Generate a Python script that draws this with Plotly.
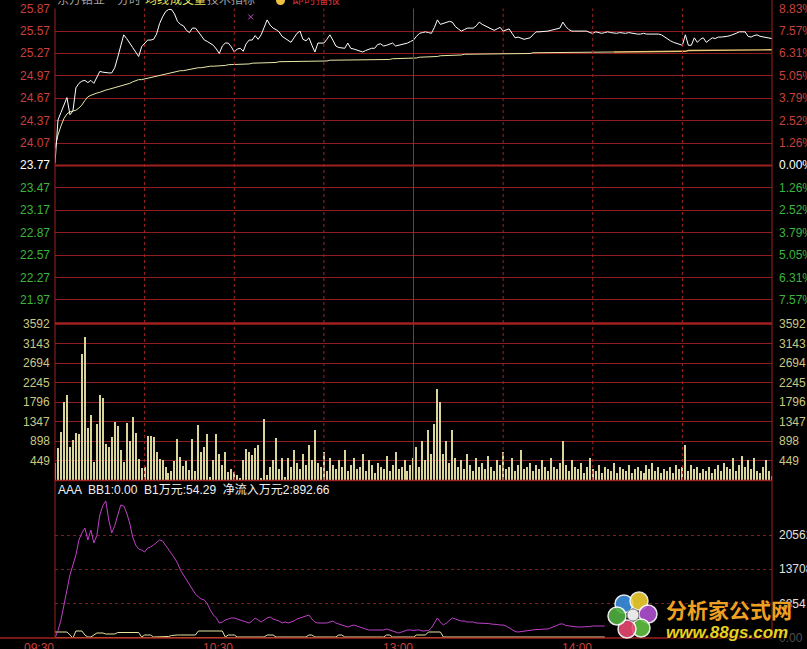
import plotly.graph_objects as go

W, H = 807, 649

# ---------------- data ----------------
prev_close = 23.77
price_ticks = [25.87, 25.57, 25.27, 24.97, 24.67, 24.37, 24.07, 23.77, 23.47, 23.17, 22.87, 22.57, 22.27, 21.97]
pct_labels = ["8.83%", "7.57%", "6.31%", "5.05%", "3.79%", "2.52%", "1.26%", "0.00%",
              "1.26%", "2.52%", "3.79%", "5.05%", "6.31%", "7.57%"]
vol_ticks = [3592, 3143, 2694, 2245, 1796, 1347, 898, 449]
ind_ticks = [20562, 13708, 6854]
ind_tick_labels = ["20562", "13708", "6854"]
time_labels = ["09:30", "10:30", "13:00", "14:00"]
time_label_pos = [0, 60, 120, 180]

price = [
    23.80, 24.38, 24.48, 24.58, 24.68, 24.45, 24.50, 24.81, 24.87, 24.90,
    24.91, 24.88, 24.91, 24.87, 24.96, 25.03, 25.02, 25.01, 25.01, 25.01,
    25.08, 25.22, 25.38, 25.52, 25.47, 25.40, 25.35, 25.29, 25.23, 25.36,
    25.41, 25.45, 25.45, 25.46, 25.53, 25.67, 25.76, 25.83, 25.86, 25.86,
    25.80, 25.70, 25.66, 25.64, 25.58, 25.55, 25.61, 25.61, 25.56, 25.50,
    25.45, 25.43, 25.41, 25.38, 25.33, 25.27, 25.37, 25.41, 25.41, 25.36,
    25.29, 25.33, 25.34, 25.30, 25.40, 25.45, 25.45, 25.51, 25.46, 25.52,
    25.62, 25.72, 25.65, 25.61, 25.59, 25.56, 25.50, 25.47, 25.45, 25.42,
    25.48, 25.54, 25.57, 25.46, 25.44, 25.48, 25.38, 25.29, 25.41, 25.41,
    25.41, 25.46, 25.52, 25.45, 25.37, 25.35, 25.34, 25.34, 25.41, 25.34,
    25.33, 25.32, 25.30, 25.29, 25.31, 25.33, 25.34, 25.34, 25.39, 25.40,
    25.37, 25.38, 25.40, 25.41, 25.37, 25.38, 25.38, 25.40, 25.41, 25.43,
    25.45, 25.50, 25.54, 25.55, 25.56, 25.55, 25.54, 25.62, 25.72, 25.66,
    25.67, 25.69, 25.70, 25.69, 25.63, 25.60, 25.57, 25.59, 25.61, 25.61,
    25.61, 25.64, 25.69, 25.66, 25.64, 25.62, 25.60, 25.58, 25.60, 25.62,
    25.57, 25.58, 25.60, 25.54, 25.48, 25.49, 25.48, 25.46, 25.47, 25.48,
    25.52, 25.56, 25.56, 25.56, 25.57, 25.57, 25.58, 25.59, 25.60, 25.61,
    25.69, 25.63, 25.59, 25.57, 25.57, 25.57, 25.56, 25.57, 25.57, 25.55,
    25.54, 25.56, 25.55, 25.54, 25.55, 25.56, 25.55, 25.54, 25.54, 25.55,
    25.54, 25.54, 25.55, 25.54, 25.54, 25.53, 25.53, 25.54, 25.53, 25.53,
    25.54, 25.54, 25.53, 25.52, 25.49, 25.46, 25.44, 25.42, 25.41, 25.39,
    25.38, 25.52, 25.38, 25.38, 25.48, 25.42, 25.46, 25.48, 25.42, 25.45,
    25.48, 25.47, 25.49, 25.49, 25.49, 25.50, 25.51, 25.52, 25.54, 25.56,
    25.56, 25.56, 25.50, 25.49, 25.51, 25.52, 25.50, 25.49, 25.48, 25.47,
    25.47,
]

avg_price = [
    24.00, 24.18, 24.30, 24.40, 24.46, 24.49, 24.50, 24.51, 24.54, 24.58,
    24.64, 24.69, 24.71, 24.73, 24.74, 24.75, 24.77, 24.78, 24.79, 24.80,
    24.81, 24.82, 24.83, 24.84, 24.85, 24.87, 24.89, 24.91, 24.92, 24.92,
    24.93, 24.94, 24.95, 24.96, 24.96, 24.97, 24.98, 24.99, 25.00, 25.01,
    25.02, 25.03, 25.04, 25.04, 25.05, 25.06, 25.06, 25.07, 25.08, 25.08,
    25.09, 25.09, 25.10, 25.10, 25.10, 25.11, 25.11, 25.11, 25.12, 25.12,
    25.12, 25.12, 25.13, 25.13, 25.13, 25.13, 25.14, 25.14, 25.14, 25.14,
    25.15, 25.15, 25.15, 25.15, 25.15, 25.16, 25.16, 25.16, 25.16, 25.16,
    25.16, 25.17, 25.17, 25.17, 25.17, 25.17, 25.17, 25.17, 25.17, 25.17,
    25.17, 25.17, 25.18, 25.18, 25.18, 25.18, 25.18, 25.18, 25.18, 25.18,
    25.18, 25.18, 25.18, 25.18, 25.18, 25.18, 25.19, 25.19, 25.19, 25.19,
    25.19, 25.19, 25.19, 25.20, 25.20, 25.20, 25.20, 25.20, 25.20, 25.20,
    25.21, 25.21, 25.22, 25.22, 25.22, 25.23, 25.23, 25.23, 25.23, 25.24,
    25.24, 25.24, 25.25, 25.25, 25.25, 25.25, 25.25, 25.26, 25.26, 25.26,
    25.26, 25.26, 25.26, 25.27, 25.27, 25.27, 25.27, 25.27, 25.27, 25.27,
    25.27, 25.27, 25.27, 25.27, 25.27, 25.27, 25.27, 25.27, 25.27, 25.27,
    25.28, 25.28, 25.28, 25.28, 25.28, 25.28, 25.28, 25.28, 25.28, 25.28,
    25.28, 25.28, 25.28, 25.28, 25.28, 25.28, 25.28, 25.28, 25.28, 25.28,
    25.28, 25.28, 25.28, 25.28, 25.28, 25.28, 25.28, 25.29, 25.29, 25.29,
    25.29, 25.29, 25.29, 25.29, 25.29, 25.29, 25.29, 25.29, 25.29, 25.29,
    25.30, 25.30, 25.30, 25.30, 25.30, 25.30, 25.30, 25.30, 25.30, 25.30,
    25.30, 25.30, 25.31, 25.31, 25.31, 25.31, 25.31, 25.31, 25.31, 25.31,
    25.31, 25.31, 25.31, 25.31, 25.31, 25.31, 25.31, 25.31, 25.31, 25.31,
    25.31, 25.31, 25.32, 25.32, 25.32, 25.32, 25.32, 25.32, 25.32, 25.32,
    25.32,
]
avg_split = 187  # colour of the average line changes here

volume = [
    397, 741, 1100, 1795, 1963, 756, 917, 1092, 1070, 2903,
    3285, 1192, 1490, 413, 1283, 1948, 1887, 840, 764, 985,
    1329, 1238, 688, 413, 1306, 894, 1444, 1077, 481, 267,
    306, 1008, 1008, 985, 642, 474, 458, 306, 168, 206,
    435, 947, 527, 328, 435, 229, 947, 214, 1260, 649,
    764, 1054, 76, 458, 1054, 603, 344, 642, 191, 244,
    183, 122, 38, 458, 710, 642, 573, 741, 802, 38,
    1405, 115, 306, 451, 970, 252, 497, 76, 500, 300,
    700, 400, 250, 600, 350, 800, 450, 1150, 400, 300,
    650, 200, 500, 350, 250, 450, 300, 700, 200, 350,
    500, 250, 300, 600, 200, 450, 350, 150, 400, 300,
    250, 550, 200, 350, 650, 250, 300, 450, 200, 350,
    500, 750, 300, 900, 450, 1150, 600, 1300, 2100, 1800,
    600, 900, 400, 1150, 500, 300, 450, 250, 600, 350,
    200, 500, 300, 400, 250, 550, 300, 200, 450, 350,
    650, 250, 300, 500, 200, 350, 700, 250, 300, 400,
    200, 350, 250, 450, 300, 200, 500, 300, 250, 400,
    900, 350, 200, 450, 300, 250, 400, 150, 300, 500,
    250, 200, 350, 150, 300, 250, 200, 400, 150, 300,
    250, 200, 350, 150, 250, 300, 200, 150, 350, 250,
    400, 200, 300, 150, 250, 200, 300, 150, 350, 250,
    300, 800, 200, 350, 250, 300, 150, 250, 200, 300,
    150, 250, 350, 200, 400, 300, 250, 500, 200, 350,
    550, 300, 450, 250, 500, 200, 150, 300, 450, 200,
    100,
]

net_inflow = [
    0, 1500, 3600, 7000, 9600, 12600, 14500, 16600, 19600, 21000,
    22000, 19600, 21600, 19000, 20500, 24600, 26500, 27400, 23600, 21000,
    22500, 24600, 26600, 26400, 25000, 23000, 20200, 18600, 17800, 17600,
    17200, 18000, 18200, 18600, 19200, 19600, 19400, 18600, 17600, 16800,
    16000, 15000, 13600, 12600, 11600, 10600, 9600, 8800, 8200, 7800,
    7600, 6800, 5600, 4600, 4000, 3000, 3200, 3600, 3800, 4000,
    4000, 3800, 3600, 3400, 3200, 3000, 3400, 4000, 3600, 3200,
    3600, 4000, 4200, 3800, 3600, 3400, 3000, 3200, 3000, 3200,
    3400, 3800, 4000, 4200, 4400, 4600, 3800, 3200, 3000, 3000,
    3000, 3000, 3200, 3400, 3000, 2800, 2600, 2400, 2200, 2400,
    2600, 2400, 2200, 2000, 1800, 1600, 1600, 1600, 1700, 1600,
    1600, 1800, 1600, 1400, 1200, 1000, 1200, 1400, 1600, 1600,
    1500, 1600, 1600, 1400, 1400, 1500, 2000, 3000, 4000, 3200,
    2600, 3000, 3600, 4000, 3800, 3600, 3400, 3400, 3200, 3200,
    3200, 3000, 3000, 3000, 3000, 2900, 2800, 2800, 2700, 2600,
    2600, 2400, 2000, 1600, 1300, 1200, 1300, 1400, 1500, 1600,
    1600, 1700, 1700, 1800, 1800, 1800, 2000, 2200, 2500, 2800,
    2800, 2500, 2400, 2400, 2300, 2200, 2200, 2200, 2300, 2300,
    2400, 2400, 2400, 2400, 2400,
]

b1_values = [
    1200, 1200, 1200, 1200, 1200, 600, 0, 1400, 1400, 1400,
    600, 200, 200, 600, 1000, 1000, 1000, 800, 800, 800,
    800, 1100, 1100, 1100, 1100, 1100, 1100, 1100, 1100, 200,
    600, 600, 600, 200, 200, 200, 200, 200, 300, 500,
    600, 600, 600, 600, 600, 600, 600, 600, 1400, 1400,
    1400, 1400, 1400, 1400, 1400, 1400, 1400, 200, 600, 600,
    600, 200, 200, 200, 200, 200, 200, 200, 200, 200,
    200, 600, 600, 600, 200, 200, 200, 200, 200, 200,
    200, 200, 200, 200, 200, 600, 600, 200, 200, 200,
    200, 200, 200, 200, 200, 600, 600, 200, 200, 200,
    200, 200, 200, 200, 200, 200, 200, 200, 200, 200,
    200, 600, 600, 200, 200, 200, 200, 200, 200, 200,
    200, 600, 600, 600, 600, 1200, 1200, 1200, 1200, 1200,
    200, 200, 200, 200, 200, 200, 200, 200, 200, 200,
    200, 200, 200, 200, 200, 200, 200, 200, 200, 200,
    200, 200, 200, 200, 200, 200, 200, 200, 200, 200,
    200, 200, 200, 200, 200, 200, 200, 200, 200, 200,
    200, 200, 200, 200, 200, 200, 200, 200, 200, 200,
    200, 200, 200, 200, 200,
]

bb1_values = [
    0, 0, 0, 0, 0, 0, 0, 0, 0, 0, 0, 0, 0, 0, 0, 0, 0, 0, 0, 0,
    0, 0, 0, 0, 0, 0, 0, 0, 0, 0, 0, 0, 0, 0, 0, 0, 0, 0, 0, 0,
    0, 0, 0, 0, 0, 0, 0, 0, 0, 0, 0, 0, 0, 0, 0, 0, 0, 0, 0, 0,
    0, 0, 0, 0, 0, 0, 0, 0, 0, 0, 0, 0, 0, 0, 0, 0, 0, 0, 0, 0,
    0, 0, 0, 0, 0, 0, 0, 0, 0, 0, 0, 0, 0, 0, 0, 0, 0, 0, 0, 0,
    0, 0, 0, 0, 0, 0, 0, 0, 0, 0, 0, 0, 0, 0, 0, 0, 0, 0, 0, 0,
    0, 0, 0, 0, 0, 0, 0, 0, 0, 0, 0, 0, 0, 0, 0, 0, 0, 0, 0, 0,
    0, 0, 0, 0, 0, 0, 0, 0, 0, 0, 0, 0, 0, 0, 0, 0, 0, 0, 0, 0,
    0, 0, 0, 0, 0, 0, 0, 0, 0, 0, 0, 0, 0, 0, 0, 0, 0, 0, 0, 0,
    0, 0, 0, 0, 0,
]

mark_x = [65.5]
mark_y = [25.76]

legend_text = "AAA  BB1:0.00  B1万元:54.29  净流入万元2:892.66"

# ---------------- geometry helpers ----------------
def px_x(p):
    return p / W

def px_y(p):
    return 1 - p / H

X0, X1 = 55, 772
PRICE_TOP, PRICE_BOT = 8.5, 323
VOL_TOP, VOL_BOT = 324, 480
IND_TOP, IND_BOT = 482, 638

price_per_px = 0.30 / 22.4
price_low = prev_close - (PRICE_BOT - 165.5) * price_per_px
price_high = prev_close + (165.5 - PRICE_TOP) * price_per_px
ind_high = (IND_BOT - IND_TOP) * 200

idx = list(range(len(price)))
idx_ind = list(range(len(net_inflow)))

GRID = "#8e1c1c"
BORDER = "#a02020"
RED = "#c8403c"
GREEN = "#3cb43c"
VOLC = "#c8c882"

fig = go.Figure()

fig.add_trace(go.Bar(x=idx, y=volume, xaxis="x2", yaxis="y2", width=0.36,
                     marker=dict(color="#d8d49a", line=dict(width=0))))
fig.add_trace(go.Scatter(x=idx[:avg_split + 1], y=avg_price[:avg_split + 1], mode="lines",
                         line=dict(color="#e8e8a8", width=1)))
fig.add_trace(go.Scatter(x=idx[avg_split:], y=avg_price[avg_split:], mode="lines",
                         line=dict(color="#f0c878", width=1.3)))
fig.add_trace(go.Scatter(x=idx, y=price, mode="lines", line=dict(color="#ffffff", width=1)))
fig.add_trace(go.Scatter(x=mark_x, y=mark_y, mode="markers",
                         marker=dict(symbol="x-thin", size=5, line=dict(color="#c050c0", width=1))))
fig.add_trace(go.Scatter(x=idx_ind, y=bb1_values, xaxis="x3", yaxis="y3", mode="lines",
                         line=dict(color="#f0a040", width=2.2)))
fig.add_trace(go.Scatter(x=idx_ind, y=b1_values, xaxis="x3", yaxis="y3", mode="lines",
                         line=dict(color="#e8e4a0", width=1)))
fig.add_trace(go.Scatter(x=idx_ind, y=net_inflow, xaxis="x3", yaxis="y3", mode="lines",
                         line=dict(color="#c040c8", width=1)))

xdom = [px_x(X0), px_x(X1)]
xcommon = dict(domain=xdom, range=[0, 240], visible=False, fixedrange=True)
fig.update_layout(
    width=W, height=H, margin=dict(l=0, r=0, t=0, b=0),
    paper_bgcolor="#000000", plot_bgcolor="#000000",
    showlegend=False, bargap=0,
    xaxis=dict(anchor="y", **xcommon),
    xaxis2=dict(anchor="y2", **xcommon),
    xaxis3=dict(anchor="y3", **xcommon),
    yaxis=dict(domain=[px_y(PRICE_BOT), px_y(PRICE_TOP)], range=[price_low, price_high],
               tickvals=price_ticks, showticklabels=False, showgrid=True, gridcolor=GRID,
               gridwidth=1, zeroline=False, ticks="", fixedrange=True),
    yaxis2=dict(domain=[px_y(VOL_BOT), px_y(VOL_TOP)], range=[0, 3592],
                tickvals=vol_ticks, showticklabels=False, showgrid=True, gridcolor=GRID,
                gridwidth=1, zeroline=False, ticks="", fixedrange=True),
    yaxis3=dict(domain=[px_y(IND_BOT), px_y(IND_TOP)], range=[0, ind_high],
                tickvals=ind_ticks, showticklabels=False, showgrid=True, gridcolor="#7a2020",
                griddash="dot", gridwidth=1, zeroline=False, ticks="", fixedrange=True),
    font=dict(family="Liberation Sans, Arial, sans-serif", size=12),
)

shapes = []
for m in [30, 60, 90, 150, 180, 210]:
    for (t, b) in [(PRICE_TOP, PRICE_BOT), (VOL_TOP, VOL_BOT)]:
        shapes.append(dict(type="line", xref="x", yref="paper", x0=m, x1=m,
                           y0=px_y(b), y1=px_y(t), line=dict(color="#a02424", width=1, dash="dot")))
shapes.append(dict(type="line", xref="paper", yref="paper", x0=px_x(413.5), x1=px_x(413.5),
                   y0=px_y(VOL_BOT), y1=px_y(PRICE_TOP), line=dict(color="#b02424", width=1)))
shapes.append(dict(type="line", xref="paper", yref="paper", x0=px_x(X0), x1=px_x(X0),
                   y0=px_y(IND_BOT), y1=px_y(PRICE_TOP), line=dict(color=BORDER, width=1)))
shapes.append(dict(type="line", xref="paper", yref="paper", x0=px_x(X1), x1=px_x(X1),
                   y0=px_y(IND_BOT), y1=1, line=dict(color=BORDER, width=1)))
shapes.append(dict(type="line", xref="paper", yref="paper", x0=px_x(X0), x1=px_x(X1),
                   y0=px_y(VOL_TOP - 0.5), y1=px_y(VOL_TOP - 0.5), line=dict(color=BORDER, width=2.5)))
shapes.append(dict(type="line", xref="paper", yref="paper", x0=px_x(X0), x1=px_x(X1),
                   y0=px_y(VOL_BOT + 0.5), y1=px_y(VOL_BOT + 0.5), line=dict(color=BORDER, width=1.5)))
shapes.append(dict(type="line", xref="paper", yref="paper", x0=0, x1=px_x(X1),
                   y0=px_y(IND_BOT), y1=px_y(IND_BOT), line=dict(color=BORDER, width=1.5)))
shapes.append(dict(type="line", xref="paper", yref="y", x0=px_x(X0), x1=px_x(X1),
                   y0=prev_close, y1=prev_close, line=dict(color=BORDER, width=2)))

# watermark flower
cx, cy = 633, 615
petals = [(-9, -11, "#3a90e0"), (6, -14, "#f0d030"), (15, -1, "#b050d0"),
          (8, 13, "#60c040"), (-6, 14, "#e84870"), (-16, 1, "#50b040")]
for dx, dy, col in petals:
    shapes.append(dict(type="circle", xref="paper", yref="paper",
                       x0=px_x(cx + dx - 9), x1=px_x(cx + dx + 9),
                       y0=px_y(cy + dy + 9), y1=px_y(cy + dy - 9),
                       fillcolor=col, line=dict(color="#ffffff", width=1.5), opacity=0.9))
shapes.append(dict(type="circle", xref="paper", yref="paper",
                   x0=px_x(cx - 6), x1=px_x(cx + 6), y0=px_y(cy + 6), y1=px_y(cy - 6),
                   fillcolor="#e8e8e8", line=dict(color="#888888", width=1)))
shapes.append(dict(type="circle", xref="paper", yref="paper", x0=px_x(276), x1=px_x(285),
                   y0=px_y(5), y1=px_y(-4), fillcolor="#f0c040", line=dict(width=0)))
fig.update_layout(shapes=shapes)

ann = []
for v, pl in zip(price_ticks, pct_labels):
    if v > prev_close + 0.001:
        col = RED
    elif v < prev_close - 0.001:
        col = GREEN
    else:
        col = "#ffffff"
    ann.append(dict(xref="paper", yref="y", x=px_x(52), y=v, text=f"{v:.2f}", showarrow=False,
                    xanchor="right", yanchor="middle", font=dict(color=col, size=12)))
    ann.append(dict(xref="paper", yref="y", x=px_x(777), y=v, text=pl, showarrow=False,
                    xanchor="left", yanchor="middle", font=dict(color=col, size=12)))
for v in vol_ticks:
    ann.append(dict(xref="paper", yref="y2", x=px_x(52), y=v, text=str(v), showarrow=False,
                    xanchor="right", yanchor="middle", font=dict(color=VOLC, size=12)))
    ann.append(dict(xref="paper", yref="y2", x=px_x(777), y=v, text=str(v), showarrow=False,
                    xanchor="left", yanchor="middle", font=dict(color=VOLC, size=12)))
for v, t in zip(ind_ticks, ind_tick_labels):
    ann.append(dict(xref="paper", yref="y3", x=px_x(777), y=v, text=t, showarrow=False,
                    xanchor="left", yanchor="middle", font=dict(color="#e0e0e0", size=12)))
ann.append(dict(xref="paper", yref="y3", x=px_x(777), y=0, text="0.00", showarrow=False,
                xanchor="left", yanchor="middle", font=dict(color="#505050", size=12)))
for t, m in zip(time_labels, time_label_pos):
    ann.append(dict(xref="x3", yref="paper", x=m, y=px_y(639), text=t, showarrow=False,
                    xanchor="right", yanchor="top", xshift=1, font=dict(color=RED, size=12)))
ann.append(dict(xref="paper", yref="paper", x=px_x(56), y=px_y(490), text=legend_text,
                showarrow=False, xanchor="left", yanchor="middle",
                font=dict(color="#f0f0f0", size=12, family="Liberation Sans, Noto Sans CJK SC, sans-serif")))
cjk = "Noto Sans CJK SC, sans-serif"
for txt, x, col in [("东方锆业", 55, "#a0a0a0"), ("分时", 115, "#a0a0a0"), ("均线", 143, "#e0e060"),
                    ("成交量", 168, "#e0e060"), ("技术指标", 205, "#a0a0a0"), ("即时播报", 290, "#d03030")]:
    ann.append(dict(xref="paper", yref="paper", x=px_x(x), y=px_y(-1), text=txt, showarrow=False,
                    xanchor="left", yanchor="middle", font=dict(color=col, size=12, family=cjk)))
ann.append(dict(xref="paper", yref="paper", x=px_x(664), y=px_y(609), text="分析家公式网",
                showarrow=False, xanchor="left", yanchor="middle",
                font=dict(color="#f0a020", size=21, family=cjk, weight="bold", shadow="1px 1px 2px #000")))
ann.append(dict(xref="paper", yref="paper", x=px_x(664), y=px_y(632), text="www.88gs.com",
                showarrow=False, xanchor="left", yanchor="middle",
                font=dict(color="#e8d020", size=17, family="Liberation Sans, sans-serif",
                          weight="bold", style="italic", shadow="1px 1px 2px #000")))
fig.update_layout(annotations=ann)

fig.write_html("out.html", config={"displayModeBar": False},
               post_script="document.body.style.margin='0';document.body.style.background='#000';")
